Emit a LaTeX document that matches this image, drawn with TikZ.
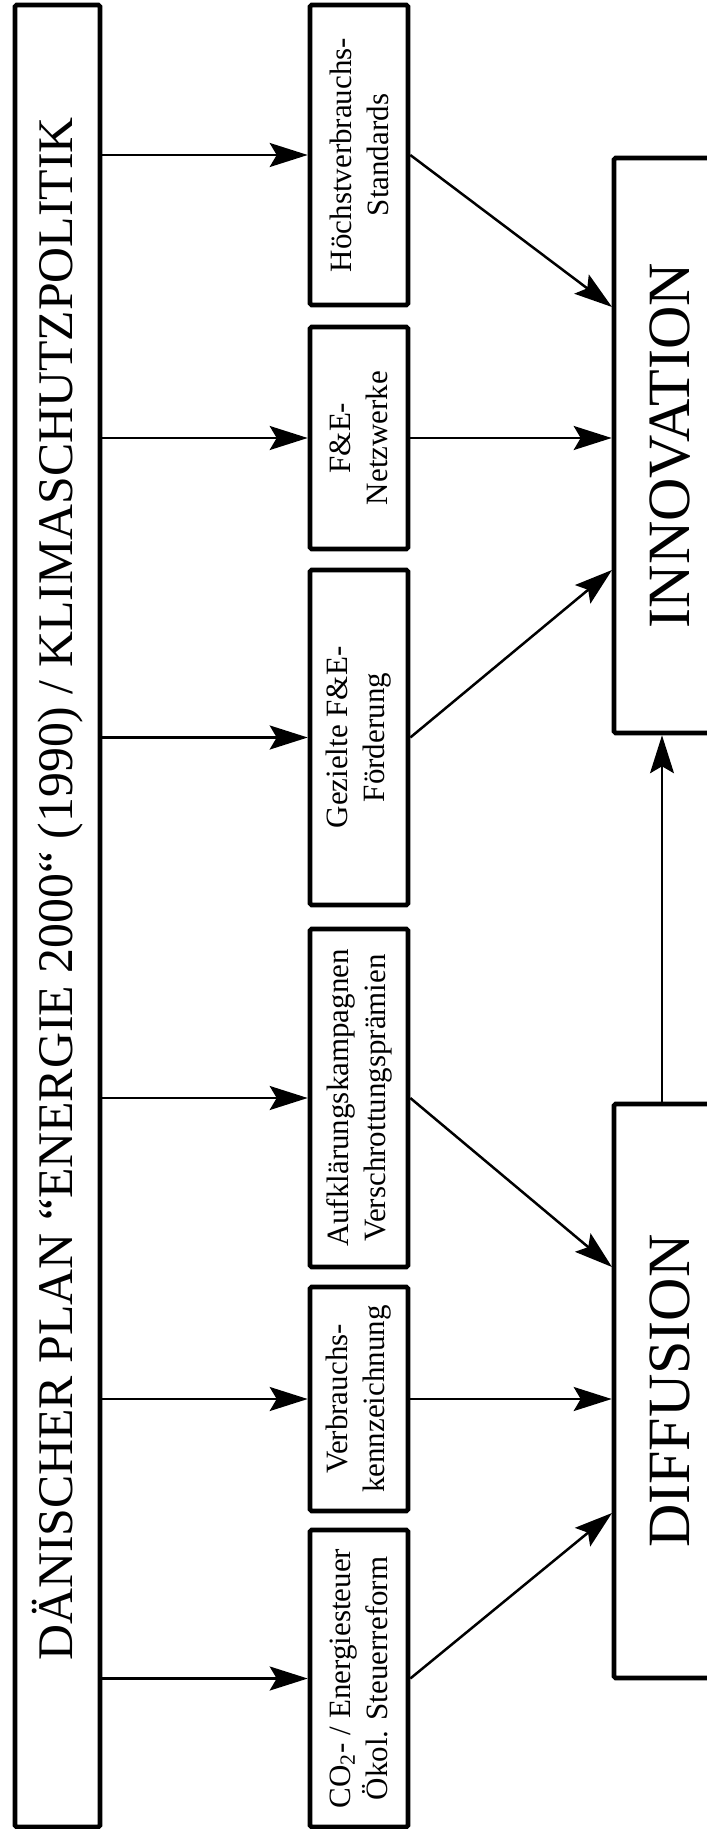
\documentclass[tikz,border=0pt]{standalone}
\usepackage{fontspec}
\setmainfont{Liberation Serif}
\usetikzlibrary{arrows.meta}
\tikzset{
  policy box/.style={
    draw,
    line width=2.3pt,
    rounded corners=0.8pt,
    rotate=90,
    align=center,
    inner sep=0pt,
    font=\fontsize{15.5}{18.5}\selectfont,
  },
  flow/.style={
    -{Stealth[length=19pt, width=12pt, inset=3.5pt]},
    line width=1.25pt,
  },
}

\begin{document}
\begin{tikzpicture}[x=0.5pt, y=-0.5pt]
        \useasboundingbox (0,0) rectangle (706,1829);

        \node[policy box, minimum width=911pt, minimum height=42.5pt] (plan) at (57.5,916) {};
        \node[rotate=90, inner sep=0pt, font=\fontsize{24.9}{30}\selectfont] (plan text) at (57.5,889)
          {DÄNISCHER PLAN “ENERGIE 2000“ (1990) / KLIMASCHUTZPOLITIK};

        \node[policy box, minimum width=150pt,   minimum height=49pt] (hoechst) at (359, 155)   {Höchstverbrauchs-\\Standards};
        \node[policy box, minimum width=111pt,   minimum height=49pt] (netz)    at (359, 438)   {F\&E-\\Netzwerke};
        \node[policy box, minimum width=167.5pt, minimum height=49pt] (foerd)   at (359, 737.5) {Gezielte F\&E-\\Förderung};
        \node[policy box, minimum width=169pt,   minimum height=49pt] (kampa)   at (359,1098)   {Aufklärungskampagnen\\Verschrottungsprämien};
        \node[policy box, minimum width=112pt,   minimum height=49pt] (kennz)   at (359,1399)   {Verbrauchs-\\kennzeichnung};
        \node[policy box, minimum width=148.5pt, minimum height=49pt] (steuer)  at (359,1678.5) {CO\textsubscript{2}- / Energiesteuer\\Ökol. Steuerreform};

        \node[policy box, minimum width=287.5pt, minimum height=56pt, font=\fontsize{30}{36}\selectfont] (inno) at (670, 445.5) {INNOVATION};
        \node[policy box, minimum width=287pt,   minimum height=56pt, font=\fontsize{30}{36}\selectfont] (diff) at (670,1391)   {DIFFUSION};

        \coordinate (inno top) at (612, 307);
        \coordinate (inno low) at (612, 570);
        \coordinate (diff top) at (612,1267);
        \coordinate (diff low) at (612,1513);
        \coordinate (link)     at (662,   0);

        \path[flow] (plan.south |- hoechst) edge (hoechst.north);
        \path[flow] (plan.south |- netz)    edge (netz.north);
        \path[flow] (plan.south |- foerd)   edge (foerd.north);
        \path[flow] (plan.south |- kampa)   edge (kampa.north);
        \path[flow] (plan.south |- kennz)   edge (kennz.north);
        \path[flow] (plan.south |- steuer)  edge (steuer.north);

        \path[flow] (hoechst.south) edge (inno top);
        \path[flow] (netz.south)    edge (inno.north |- netz);
        \path[flow] (foerd.south)   edge (inno low);
        \path[flow] (kampa.south)   edge (diff top);
        \path[flow] (kennz.south)   edge (diff.north |- kennz);
        \path[flow] (steuer.south)  edge (diff low);

        \path[flow, line width=0.8pt] (diff.east -| link) edge (inno.west -| link);
\end{tikzpicture}
\end{document}
